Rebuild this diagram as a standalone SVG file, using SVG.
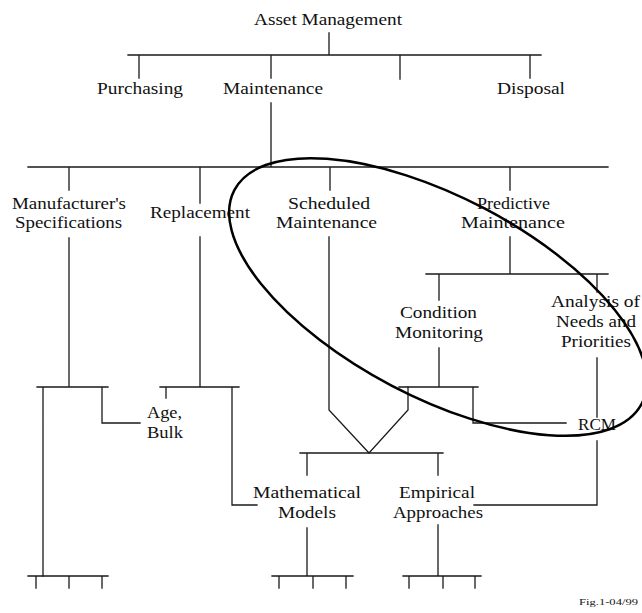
<svg xmlns="http://www.w3.org/2000/svg" width="642" height="613" viewBox="0 0 642 613">
<style>
text{font-family:"Liberation Serif","Times New Roman",serif;font-size:16px;fill:#111}
.c{fill:none;stroke:#1a1a1a;stroke-width:1.3;stroke-linecap:square}
.fig{font-size:9px}
</style>
<rect width="642" height="613" fill="#fff"/>
<g id="connectors" class="c">
<path d="M329 33V55M128 55H541M139 55V78M271 55V78M400 55V79M530 55V78"/>
<path d="M271 103V167M28 167H608M69 167V190M200 167V203M330 167V190M510 167V190"/>
<path d="M69 238V387M37 387H108M43 387V576M102 387V423H140"/>
<path d="M200 237V387M160 387H239M166 387V398M232 387V505H257"/>
<path d="M329 237V410L369 453L408 410V387"/>
<path d="M510 237V274M426 274H608M439 274V300M597 274V292"/>
<path d="M439 348V387M399 387H478M473 387V423H566"/>
<path d="M597 358V417M597 441V505H474"/>
<path d="M300 453H443M307 453V475M438 453V475"/>
<path d="M28 576H108M36 576V588M69 576V588M102 576V588"/>
<path d="M307 528V576M272 576H353M279 576V588M313 576V588M346 576V588"/>
<path d="M438 525V576M403 576H481M409 576V588M443 576V588M475 576V588"/>
</g>
<g id="n-asset"><text x="254" y="25" textLength="148" lengthAdjust="spacingAndGlyphs">Asset Management</text></g>
<g id="n-purchasing"><text x="97" y="94" textLength="86" lengthAdjust="spacingAndGlyphs">Purchasing</text></g>
<g id="n-maintenance"><text x="223" y="94" textLength="100" lengthAdjust="spacingAndGlyphs">Maintenance</text></g>
<g id="n-disposal"><text x="497" y="94" textLength="68" lengthAdjust="spacingAndGlyphs">Disposal</text></g>
<g id="n-manufacturer"><text x="12" y="209" textLength="114" lengthAdjust="spacingAndGlyphs">Manufacturer's</text><text x="15" y="228" textLength="107" lengthAdjust="spacingAndGlyphs">Specifications</text></g>
<g id="n-replacement"><text x="150" y="218" textLength="100" lengthAdjust="spacingAndGlyphs">Replacement</text></g>
<g id="n-scheduled"><text x="288" y="209" textLength="82" lengthAdjust="spacingAndGlyphs">Scheduled</text><text x="276" y="228" textLength="101" lengthAdjust="spacingAndGlyphs">Maintenance</text></g>
<g id="n-predictive"><text x="477" y="209" textLength="73" lengthAdjust="spacingAndGlyphs">Predictive</text><text x="461" y="228" textLength="104" lengthAdjust="spacingAndGlyphs">Maintenance</text></g>
<g id="n-condition"><text x="400" y="318" textLength="77" lengthAdjust="spacingAndGlyphs">Condition</text><text x="395" y="338" textLength="88" lengthAdjust="spacingAndGlyphs">Monitoring</text></g>
<g id="n-analysis"><text x="551" y="307" textLength="89" lengthAdjust="spacingAndGlyphs">Analysis of</text><text x="556" y="327" textLength="80" lengthAdjust="spacingAndGlyphs">Needs and</text><text x="561" y="347" textLength="70" lengthAdjust="spacingAndGlyphs">Priorities</text></g>
<g id="n-age"><text x="147" y="418" textLength="35" lengthAdjust="spacingAndGlyphs">Age,</text><text x="147" y="438" textLength="36" lengthAdjust="spacingAndGlyphs">Bulk</text></g>
<g id="n-rcm"><text x="578" y="430" textLength="38" lengthAdjust="spacingAndGlyphs">RCM</text></g>
<g id="n-math"><text x="253" y="498" textLength="108" lengthAdjust="spacingAndGlyphs">Mathematical</text><text x="278" y="518" textLength="58" lengthAdjust="spacingAndGlyphs">Models</text></g>
<g id="n-empirical"><text x="399" y="498" textLength="76" lengthAdjust="spacingAndGlyphs">Empirical</text><text x="393" y="518" textLength="90" lengthAdjust="spacingAndGlyphs">Approaches</text></g>
<g id="highlight"><ellipse cx="438" cy="297" rx="230" ry="100" transform="rotate(27.7 438 297)" fill="none" stroke="#000" stroke-width="2.5"/></g>
<g id="caption"><text class="fig" x="579" y="605" textLength="59" lengthAdjust="spacingAndGlyphs">Fig.1-04/99</text></g>
</svg>
